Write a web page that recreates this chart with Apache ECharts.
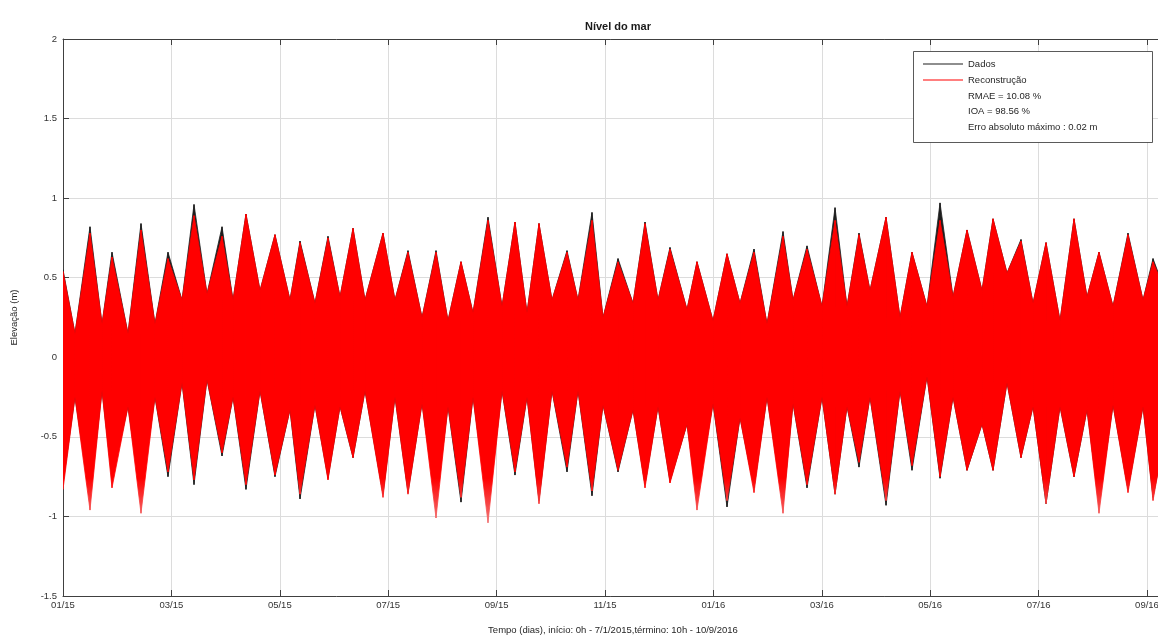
<!DOCTYPE html>
<html>
<head>
<meta charset="utf-8">
<script src="https://cdn.jsdelivr.net/npm/echarts/dist/echarts.min.js"></script>
<style>html,body{margin:0;padding:0;background:#fff}#c{width:1158px;height:639px}</style>
</head>
<body>
<div id="c"></div>
<script>
// ---- data ----
// x position of each envelope point, in months since 01/2015
const monthPos = [0.000,0.221,0.498,0.720,0.904,1.199,1.439,1.697,1.937,2.196,2.417,2.657,2.934,3.137,3.376,3.635,3.911,4.188,4.373,4.649,4.889,5.111,5.351,5.572,5.904,6.125,6.365,6.624,6.882,7.103,7.343,7.565,7.841,8.100,8.339,8.561,8.782,9.022,9.299,9.502,9.760,9.963,10.240,10.517,10.738,10.978,11.199,11.513,11.697,11.993,12.251,12.491,12.749,12.989,13.284,13.469,13.727,14.004,14.244,14.465,14.686,14.889,15.185,15.443,15.664,15.941,16.181,16.421,16.679,16.956,17.159,17.417,17.675,17.897,18.137,18.395,18.653,18.893,19.114,19.373,19.649,19.926,20.111,20.295];
// upper / lower envelope of the observed series (Dados)
const dadosMax = [0.55,0.15,0.82,0.21,0.66,0.15,0.84,0.21,0.66,0.36,0.96,0.40,0.82,0.36,0.90,0.42,0.77,0.36,0.73,0.34,0.76,0.38,0.81,0.36,0.78,0.36,0.67,0.25,0.67,0.23,0.60,0.28,0.88,0.32,0.85,0.28,0.84,0.36,0.67,0.36,0.91,0.25,0.62,0.34,0.85,0.36,0.69,0.30,0.60,0.23,0.65,0.34,0.68,0.21,0.79,0.36,0.70,0.32,0.94,0.32,0.78,0.42,0.88,0.25,0.66,0.32,0.97,0.38,0.80,0.42,0.87,0.53,0.74,0.34,0.72,0.23,0.87,0.38,0.66,0.32,0.78,0.36,0.62,0.45];
const dadosMin = [-0.79,-0.25,-0.88,-0.21,-0.76,-0.31,-0.88,-0.25,-0.75,-0.16,-0.80,-0.14,-0.62,-0.25,-0.83,-0.21,-0.75,-0.33,-0.89,-0.30,-0.76,-0.31,-0.63,-0.21,-0.86,-0.25,-0.85,-0.29,-0.92,-0.31,-0.91,-0.25,-0.95,-0.21,-0.74,-0.25,-0.90,-0.21,-0.72,-0.21,-0.87,-0.30,-0.72,-0.33,-0.80,-0.31,-0.78,-0.42,-0.88,-0.29,-0.94,-0.38,-0.82,-0.25,-0.92,-0.29,-0.82,-0.25,-0.86,-0.31,-0.69,-0.25,-0.93,-0.21,-0.71,-0.12,-0.76,-0.25,-0.71,-0.42,-0.71,-0.16,-0.63,-0.31,-0.92,-0.31,-0.75,-0.33,-0.92,-0.30,-0.83,-0.31,-0.88,-0.55];
// upper / lower envelope of the reconstructed series (Reconstrução)
const reconMax = [0.54,0.15,0.78,0.21,0.63,0.15,0.80,0.21,0.62,0.36,0.89,0.40,0.76,0.36,0.90,0.42,0.77,0.36,0.72,0.34,0.75,0.38,0.81,0.36,0.78,0.36,0.66,0.25,0.66,0.23,0.60,0.28,0.86,0.32,0.85,0.28,0.84,0.36,0.66,0.36,0.86,0.25,0.60,0.34,0.84,0.36,0.68,0.30,0.60,0.23,0.65,0.34,0.66,0.21,0.76,0.36,0.68,0.32,0.86,0.32,0.77,0.42,0.88,0.25,0.66,0.32,0.86,0.38,0.80,0.42,0.87,0.53,0.73,0.34,0.72,0.23,0.87,0.38,0.66,0.32,0.77,0.36,0.60,0.45];
const reconMin = [-0.83,-0.25,-0.96,-0.21,-0.82,-0.31,-0.98,-0.25,-0.72,-0.16,-0.77,-0.14,-0.60,-0.25,-0.80,-0.21,-0.74,-0.33,-0.86,-0.30,-0.77,-0.31,-0.63,-0.21,-0.88,-0.25,-0.86,-0.29,-1.01,-0.31,-0.88,-0.25,-1.04,-0.21,-0.72,-0.25,-0.92,-0.21,-0.69,-0.21,-0.84,-0.30,-0.71,-0.33,-0.82,-0.31,-0.79,-0.42,-0.96,-0.29,-0.90,-0.38,-0.85,-0.25,-0.98,-0.29,-0.80,-0.25,-0.86,-0.31,-0.66,-0.25,-0.90,-0.21,-0.68,-0.12,-0.75,-0.25,-0.71,-0.42,-0.71,-0.16,-0.63,-0.31,-0.92,-0.31,-0.75,-0.33,-0.98,-0.30,-0.85,-0.31,-0.90,-0.55];
const xTickLabels = ['01/15','03/15','05/15','07/15','09/15','11/15','01/16','03/16','05/16','07/16','09/16'];
const statsLines = ['RMAE = 10.08 %','IOA = 98.56 %','Erro absoluto máximo : 0.02 m'];
const titleText = 'Nível do mar';
const xName = 'Tempo (dias), início: 0h - 7/1/2015,término: 10h - 10/9/2016';
const yName = 'Elevação (m)';

// ---- chart ----
const FONT = '"Liberation Sans", Arial, Helvetica, sans-serif';
const chart = echarts.init(document.getElementById('c'), null, {renderer: 'canvas'});

function bandRenderer(hiArr, loArr, isRecon) {
  return function (params, api) {
    const i = params.dataIndex;
    if (i >= monthPos.length - 1) return null;
    const pts = [
      api.coord([monthPos[i], hiArr[i]]),
      api.coord([monthPos[i + 1], hiArr[i + 1]]),
      api.coord([monthPos[i + 1], loArr[i + 1]]),
      api.coord([monthPos[i], loArr[i]])
    ];
    let fill;
    if (isRecon) {
      const yA = api.coord([0, -0.76])[1];
      const yB = api.coord([0, -1.06])[1];
      fill = new echarts.graphic.LinearGradient(0, yA, 0, yB, [
        {offset: 0, color: '#ff0000'},
        {offset: 1, color: '#f08080'}
      ], true);
    } else {
      fill = '#1e1e1e';
    }
    return {
      type: 'polygon',
      shape: {points: pts},
      style: {fill: fill, stroke: fill, lineWidth: 0.8}
    };
  };
}

function toData(hi, lo) {
  return monthPos.map((m, i) => [m, hi[i], lo[i]]);
}

const option = {
  animation: false,
  backgroundColor: '#ffffff',
  title: {
    text: titleText,
    left: 613, top: 16, textAlign: 'center',
    textStyle: {fontFamily: FONT, fontSize: 11, fontWeight: 'bold', color: '#1a1a1a'}
  },
  grid: {left: 63, top: 39, width: 1100, height: 557, containLabel: false, outerBoundsMode: 'none'},
  legend: {
    orient: 'vertical', left: 923, top: 58, padding: 0,
    itemWidth: 40, itemHeight: 1, itemGap: 4,
    data: [{name: 'Dados', icon: 'rect'}, {name: 'Reconstrução', icon: 'rect'}],
    textStyle: {fontFamily: FONT, fontSize: 9.5, color: '#262626', lineHeight: 12},
    z: 6
  },
  xAxis: [{
    type: 'value', min: 0, max: 20.295, interval: 2,
    position: 'bottom',
    name: xName, nameLocation: 'middle', nameGap: 29,
    nameTextStyle: {fontFamily: FONT, fontSize: 9.5, color: '#262626'},
    axisLine: {show: true, onZero: false, lineStyle: {color: '#404040', width: 1}},
    axisTick: {show: true, inside: true, length: 6, lineStyle: {color: '#404040'}},
    axisLabel: {
      fontFamily: FONT, fontSize: 9.5, color: '#333', margin: 4,
      formatter: function (v) {
        const k = v / 2;
        if (Math.abs(k - Math.round(k)) > 1e-6) return '';
        return xTickLabels[Math.round(k)] || '';
      }
    },
    splitLine: {show: true, lineStyle: {color: '#dcdcdc', width: 1}}
  }, {
    type: 'value', min: 0, max: 20.295, interval: 2,
    position: 'top',
    axisLine: {show: true, onZero: false, lineStyle: {color: '#404040', width: 1}},
    axisTick: {show: true, inside: true, length: 6, lineStyle: {color: '#404040'}},
    axisLabel: {show: false},
    splitLine: {show: false}
  }],
  yAxis: [{
    type: 'value', min: -1.5, max: 2, interval: 0.5,
    name: yName, nameLocation: 'middle', nameGap: 44,
    nameTextStyle: {fontFamily: FONT, fontSize: 9.5, color: '#262626'},
    axisLine: {show: true, onZero: false, lineStyle: {color: '#404040', width: 1}},
    axisTick: {show: true, inside: true, length: 6, lineStyle: {color: '#404040'}},
    axisLabel: {fontFamily: FONT, fontSize: 9.5, color: '#333', margin: 6},
    splitLine: {show: true, lineStyle: {color: '#dcdcdc', width: 1}}
  }],
  graphic: [
    {
      type: 'rect', z: 5,
      shape: {x: 913.5, y: 51.5, width: 239, height: 91},
      style: {fill: '#ffffff', stroke: '#303030', lineWidth: 0.8}
    }
  ].concat(statsLines.map((t, i) => ({
    type: 'text', z: 7, left: 968, top: 91.5 + i * 15.3,
    style: {text: t, font: '9.5px ' + FONT, fill: '#262626'}
  }))),
  series: [{
    name: 'Dados', type: 'custom', clip: true,
    itemStyle: {color: '#1e1e1e'},
    renderItem: bandRenderer(dadosMax, dadosMin, false),
    encode: {x: 0, y: [1, 2]},
    data: toData(dadosMax, dadosMin),
    z: 2
  }, {
    name: 'Reconstrução', type: 'custom', clip: true,
    itemStyle: {color: '#ff0000'},
    renderItem: bandRenderer(reconMax, reconMin, true),
    encode: {x: 0, y: [1, 2]},
    data: toData(reconMax, reconMin),
    z: 3
  }]
};
chart.setOption(option);
</script>
</body>
</html>
